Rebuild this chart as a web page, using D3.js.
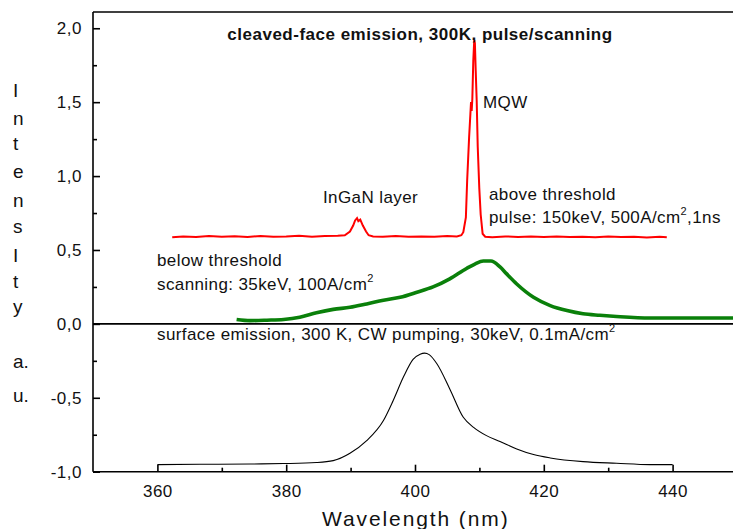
<!DOCTYPE html>
<html>
<head>
  <meta charset="utf-8">
  <title>cleaved-face emission, 300K, pulse/scanning</title>
  <script src="https://cdn.jsdelivr.net/npm/d3@7"></script>
  <style>
    body { margin: 0; background: #fff; }
    text { font-family: "Liberation Sans", Arial, sans-serif; fill: #111; }
  </style>
</head>
<body>
<script>
  // spectra: [wavelength nm, intensity a.u.]
  var pulseSpectrum = [
    [362.3,0.586],[364,0.592],[366,0.588],[368,0.594],[370,0.589],[372,0.593],[374,0.588],
    [376,0.595],[378,0.590],[380,0.592],[382,0.596],[384,0.590],[386,0.594],[388,0.597],
    [389.1,0.600],[389.9,0.625],[390.4,0.665],[390.7,0.700],[391.0,0.715],[391.2,0.695],
    [391.5,0.705],[391.9,0.665],[392.4,0.625],[392.8,0.600],[393.5,0.592],[395,0.590],
    [397,0.594],[399,0.589],[401,0.592],[403,0.590],[405,0.594],[406.5,0.592],[407.2,0.600],
    [407.5,0.620],[407.9,0.72],[408.1,0.97],[408.4,1.26],[408.6,1.42],[408.7,1.50],
    [408.8,1.44],[408.9,1.52],[409.05,1.78],[409.2,1.92],[409.3,1.90],[409.43,1.71],
    [409.58,1.51],[409.74,1.20],[409.98,0.92],[410.2,0.74],[410.5,0.61],[410.9,0.59],
    [412,0.586],[414,0.592],[416,0.588],[418,0.591],[420,0.587],[422,0.592],[424,0.588],
    [426,0.590],[428,0.586],[430,0.591],[432,0.587],[434,0.590],[436,0.585],[438,0.589],
    [439.1,0.586]
  ];

  var scanSpectrum = [
    [372.3,0.030],[374.4,0.022],[377.0,0.025],[379.6,0.030],[382.1,0.045],[384.7,0.075],
    [387.3,0.098],[389.9,0.112],[392.5,0.135],[395.1,0.160],[397.7,0.180],[400.3,0.214],
    [402.8,0.250],[405.4,0.305],[408.0,0.375],[409.3,0.405],[410.6,0.425],[411.8,0.425],
    [413.2,0.385],[414.2,0.340],[415.8,0.270],[418.4,0.180],[421.0,0.124],[423.6,0.090],
    [426.1,0.068],[428.7,0.058],[431.3,0.050],[436.5,0.040],[441.7,0.040],[449.4,0.040]
  ];

  var cwSpectrum = [
    [360,-0.952],[366.6,-0.950],[374.4,-0.948],[379.6,-0.945],[384.7,-0.938],[387.3,-0.925],
    [389.9,-0.875],[392.5,-0.790],[395.1,-0.654],[396.6,-0.520],[398.2,-0.360],[399.7,-0.240],
    [400.8,-0.205],[401.5,-0.198],[402.2,-0.208],[403.4,-0.270],[405.4,-0.440],[407.5,-0.632],
    [409.1,-0.700],[411.1,-0.756],[413.2,-0.795],[415.8,-0.846],[418.4,-0.884],[421.0,-0.907],
    [426.1,-0.932],[431.3,-0.943],[436.5,-0.952],[440,-0.952]
  ];

  var xTicks = [360, 380, 400, 420, 440];
  var xMinor = [370, 390, 410, 430, 450];
  var yTicks = [-1, -0.5, 0, 0.5, 1, 1.5, 2];
  var yMinor = [-0.75, -0.25, 0.25, 0.75, 1.25, 1.75];

  var w = 733, h = 529;
  var plotLeft = 93, plotRight = 737, plotTop = 12, plotBottom = 471.7;

  var svg = d3.select("body").append("svg")
      .attr("width", w)
      .attr("height", h);

  var x = d3.scaleLinear().domain([350, 450]).range([plotLeft, plotRight]);
  var y = d3.scaleLinear().domain([-1, 2.11]).range([plotBottom, plotTop]);

  var loc = d3.formatLocale({decimal: ",", thousands: ".", grouping: [3], currency: ["", ""], minus: "-"});
  var fmt = loc.format(".1f");

  // curves
  var line = d3.line()
      .x(function(d) { return x(d[0]); })
      .y(function(d) { return y(d[1]); });
  var smooth = d3.line()
      .curve(d3.curveMonotoneX)
      .x(function(d) { return x(d[0]); })
      .y(function(d) { return y(d[1]); });

  svg.append("path").datum(cwSpectrum)
      .attr("d", smooth).attr("fill", "none")
      .attr("stroke", "#000").attr("stroke-width", 1.1);

  svg.append("path").datum(scanSpectrum)
      .attr("d", smooth).attr("fill", "none")
      .attr("stroke", "#0a800a").attr("stroke-width", 3.6)
      .attr("stroke-linejoin", "round");

  svg.append("path").datum(pulseSpectrum)
      .attr("d", line).attr("fill", "none")
      .attr("stroke", "#ff0000").attr("stroke-width", 2);

  // frame + zero line
  svg.append("line").attr("x1", plotLeft).attr("x2", plotRight).attr("y1", plotTop).attr("y2", plotTop)
      .attr("stroke", "#000").attr("stroke-width", 1.6);
  svg.append("line").attr("x1", plotLeft).attr("x2", plotRight).attr("y1", y(0)).attr("y2", y(0))
      .attr("stroke", "#000").attr("stroke-width", 1.6);

  // y axis
  var yAxis = svg.append("g")
      .attr("transform", "translate(" + plotLeft + ",0)")
      .call(d3.axisLeft(y).tickValues(yTicks).tickSize(-7).tickPadding(11).tickFormat(fmt));
  svg.append("g")
      .attr("transform", "translate(" + plotLeft + ",0)")
      .call(d3.axisLeft(y).tickValues(yMinor).tickSize(-4).tickFormat(""))
      .select(".domain").remove();
  yAxis.select(".domain").attr("d", "M0," + plotTop + "V" + plotBottom);

  // x axis
  var xAxis = svg.append("g")
      .attr("transform", "translate(0," + plotBottom + ")")
      .call(d3.axisBottom(x).tickValues(xTicks).tickSize(-7).tickPadding(13).tickFormat(d3.format("d")));
  svg.append("g")
      .attr("transform", "translate(0," + plotBottom + ")")
      .call(d3.axisBottom(x).tickValues(xMinor).tickSize(-4).tickFormat(""))
      .select(".domain").remove();
  xAxis.select(".domain").attr("d", "M" + plotLeft + ",0H" + plotRight);

  svg.selectAll(".domain, .tick line").attr("stroke", "#000").attr("stroke-width", 1.6);
  svg.selectAll(".tick text")
      .style("font-family", "'Liberation Sans', Arial, sans-serif")
      .style("font-size", "17px")
      .style("letter-spacing", "0.5px")
      .attr("fill", "#222");

  // axis titles
  svg.append("text")
      .attr("x", 322).attr("y", 526)
      .style("font-size", "21px")
      .style("letter-spacing", "1.9px")
      .text("Wavelength (nm)");

  var yTitle = [["I", 97], ["n", 125], ["t", 150], ["e", 178], ["n", 207], ["s", 233],
                ["I", 262], ["t", 288], ["y", 313], ["a.", 368], ["u.", 402]];
  svg.selectAll(".ytitle").data(yTitle).enter().append("text")
      .attr("class", "ytitle")
      .attr("x", 13)
      .attr("y", function(d) { return d[1]; })
      .style("font-size", "19px")
      .attr("fill", "#222")
      .text(function(d) { return d[0]; });

  // title
  svg.append("text")
      .attr("x", 420).attr("y", 40)
      .attr("text-anchor", "middle")
      .style("font-size", "17px")
      .style("font-weight", "bold")
      .style("letter-spacing", "0.5px")
      .text("cleaved-face emission, 300K, pulse/scanning");

  // annotations
  function label(px, py, txt, sup, tail) {
    var t = svg.append("text")
        .attr("x", px).attr("y", py)
        .style("font-size", "17px")
        .style("letter-spacing", "0.4px");
    t.append("tspan").text(txt);
    if (sup) {
      t.append("tspan").attr("dy", -8).style("font-size", "11px").text(sup);
      t.append("tspan").attr("dy", 8).text(tail || "");
    }
  }
  label(483, 108, "MQW");
  label(323, 203, "InGaN layer");
  label(489, 200, "above threshold");
  label(489, 223, "pulse: 150keV, 500A/cm", "2", ",1ns");
  label(157, 266, "below threshold");
  label(157, 290, "scanning: 35keV, 100A/cm", "2");
  label(157, 340, "surface emission, 300 K, CW pumping, 30keV, 0.1mA/cm", "2");
</script>
</body>
</html>
